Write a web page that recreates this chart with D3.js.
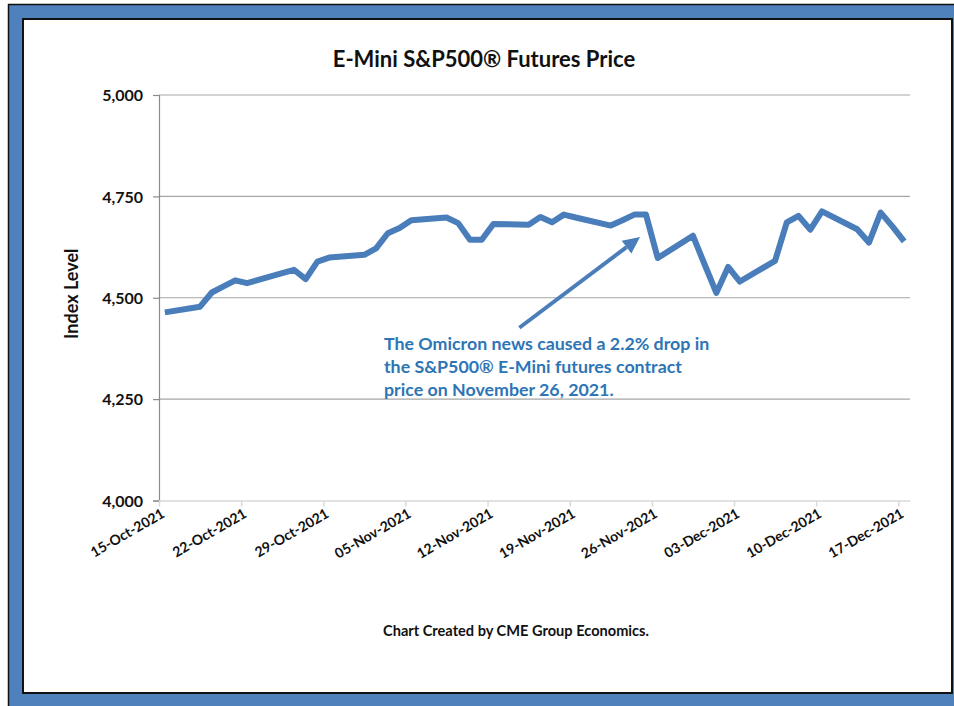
<!DOCTYPE html>
<html>
<head>
<meta charset="utf-8">
<script src="https://cdn.jsdelivr.net/npm/d3@7"></script>
<style>
  body { margin: 0; background: #fff; }
  svg text { font-family: Lato, "Open Sans", sans-serif; font-weight: 700; }
</style>
</head>
<body>
<div id="chart"></div>
<script>
// trading days and E-Mini S&P500 settle levels
const dates = [
    "2021-10-15", "2021-10-18", "2021-10-19", "2021-10-20", "2021-10-21", "2021-10-22",
    "2021-10-25", "2021-10-26", "2021-10-27", "2021-10-28", "2021-10-29",
    "2021-11-01", "2021-11-02", "2021-11-03", "2021-11-04", "2021-11-05",
    "2021-11-08", "2021-11-09", "2021-11-10", "2021-11-11", "2021-11-12",
    "2021-11-15", "2021-11-16", "2021-11-17", "2021-11-18", "2021-11-19",
    "2021-11-22", "2021-11-23", "2021-11-24", "2021-11-25", "2021-11-26",
    "2021-11-29", "2021-11-30", "2021-12-01", "2021-12-02", "2021-12-03",
    "2021-12-06", "2021-12-07", "2021-12-08", "2021-12-09", "2021-12-10",
    "2021-12-13", "2021-12-14", "2021-12-15", "2021-12-16", "2021-12-17"
];
const prices = [
    4464, 4478, 4513, 4528, 4543, 4536,
    4561, 4569, 4546, 4589, 4599,
    4606, 4622, 4659, 4672, 4691,
    4698, 4684, 4643, 4643, 4682,
    4680, 4699, 4686, 4705, 4698,
    4678, 4691, 4705, 4705, 4598,
    4653, 4582, 4512, 4576, 4540,
    4591, 4686, 4702, 4668, 4713,
    4669, 4636, 4710, 4676, 4639
];
const xTickDates = [
    "2021-10-15", "2021-10-22", "2021-10-29", "2021-11-05", "2021-11-12",
    "2021-11-19", "2021-11-26", "2021-12-03", "2021-12-10", "2021-12-17"
];
const yTicks = [4000, 4250, 4500, 4750, 5000];

const titleText = "E-Mini S&P500\u00AE Futures Price";
const yLabel = "Index Level";
const noteLines = [
    "The Omicron news caused a 2.2% drop in",
    "the S&P500\u00AE E-Mini futures contract",
    "price on November 26, 2021."
];
const creditText = "Chart Created by CME Group Economics.";

const width = 954, height = 706;
const parseDay = d3.timeParse("%Y-%m-%d");
const data = dates.map((d, i) => ({ date: parseDay(d), value: prices[i] }));

const svg = d3.select("#chart").append("svg")
    .attr("width", width)
    .attr("height", height);

// blue frame + white panel
svg.append("rect")
    .attr("x", 8).attr("y", 4)
    .attr("width", width - 8).attr("height", height - 4)
    .attr("fill", "#4f81bd");
svg.append("path")
    .attr("d", `M8.5,${height} V4.5 H${width}`)
    .attr("fill", "none")
    .attr("stroke", "#111")
    .attr("stroke-width", 1.5);
svg.append("rect")
    .attr("x", 23).attr("y", 19)
    .attr("width", 929).attr("height", 674)
    .attr("fill", "#fff")
    .attr("stroke", "#111")
    .attr("stroke-width", 2);

// scales
const x = d3.scaleTime()
    .domain([parseDay("2021-10-15"), parseDay("2021-12-18")])
    .range([159, 910]);
const y = d3.scaleLinear()
    .domain([4000, 5000])
    .range([500.5, 95]);

const halfDay = d => d3.timeHour.offset(d, 12);

// gridlines
svg.append("g")
    .selectAll("line")
    .data(yTicks.filter(t => t > 4000))
    .join("line")
    .attr("x1", x.range()[0]).attr("x2", x.range()[1])
    .attr("y1", d => y(d)).attr("y2", d => y(d))
    .attr("stroke", "#a6a6a6")
    .attr("stroke-width", 1.2);

// y axis
const yAxis = svg.append("g")
    .attr("transform", `translate(${x.range()[0]},0)`)
    .call(d3.axisLeft(y).tickValues(yTicks).tickFormat(d3.format(",")).tickSize(6).tickPadding(10));
yAxis.select(".domain").attr("stroke", "#8c8c8c").attr("stroke-width", 1.2);
yAxis.selectAll(".tick line").attr("stroke", "#8c8c8c").attr("stroke-width", 1.2);
yAxis.selectAll("text")
    .style("font-size", "16px")
    .attr("fill", "#111")
    .attr("dy", "0.36em");

// x axis
const xAxis = svg.append("g")
    .attr("transform", `translate(0,${y(4000)})`)
    .call(d3.axisBottom(x)
        .tickValues(xTickDates.map(parseDay))
        .tickFormat(d3.timeFormat("%d-%b-%Y"))
        .tickSize(6)
        .tickSizeOuter(0));
xAxis.select(".domain").attr("stroke", "#d9d9d9").attr("stroke-width", 1.5);
xAxis.selectAll(".tick line").attr("stroke", "#d9d9d9").attr("stroke-width", 1.5);
xAxis.selectAll("text")
    .style("font-size", "14px")
    .attr("fill", "#111")
    .attr("text-anchor", "end")
    .attr("dy", 0)
    .attr("y", 0)
    .attr("transform", "translate(6,16) rotate(-30)");

// axis title
svg.append("text")
    .attr("transform", `translate(78,${y(4510)}) rotate(-90)`)
    .attr("text-anchor", "middle")
    .style("font-size", "18px")
    .attr("fill", "#111")
    .text(yLabel);

// chart title
svg.append("text")
    .attr("x", 484).attr("y", 67)
    .attr("text-anchor", "middle")
    .style("font-size", "22px")
    .attr("fill", "#111")
    .text(titleText);

// price line
const line = d3.line()
    .x(d => x(halfDay(d.date)))
    .y(d => y(d.value));
svg.append("path")
    .datum(data)
    .attr("fill", "none")
    .attr("stroke", "#4a7ebb")
    .attr("stroke-width", 6)
    .attr("stroke-linejoin", "round")
    .attr("d", line);

// annotation arrow, in data space
const arrowFrom = { date: new Date(2021, 10, 14, 17), value: 4426 };
const arrowTo = { date: new Date(2021, 10, 25, 0), value: 4650 };
const ax1 = x(arrowFrom.date), ay1 = y(arrowFrom.value);
const ax2 = x(arrowTo.date), ay2 = y(arrowTo.value);
const ang = Math.atan2(ay2 - ay1, ax2 - ax1);
const headLen = 17, headW = 8;
const bx = ax2 - headLen * Math.cos(ang), by = ay2 - headLen * Math.sin(ang);
svg.append("line")
    .attr("x1", ax1).attr("y1", ay1)
    .attr("x2", bx).attr("y2", by)
    .attr("stroke", "#4a7ebb")
    .attr("stroke-width", 4);
svg.append("path")
    .attr("d", `M${ax2},${ay2} L${bx - headW * Math.sin(ang)},${by + headW * Math.cos(ang)} L${bx + headW * Math.sin(ang)},${by - headW * Math.cos(ang)} Z`)
    .attr("fill", "#4a7ebb");

// annotation text
svg.append("text")
    .attr("x", 384).attr("y", 350)
    .style("font-size", "17.8px")
    .attr("fill", "#2e75b6")
    .selectAll("tspan")
    .data(noteLines)
    .join("tspan")
    .attr("x", 384)
    .attr("dy", (d, i) => i === 0 ? 0 : 23)
    .text(d => d);

// credit
svg.append("text")
    .attr("x", 516).attr("y", 636)
    .attr("text-anchor", "middle")
    .style("font-size", "14.6px")
    .attr("fill", "#111")
    .text(creditText);
</script>
</body>
</html>
